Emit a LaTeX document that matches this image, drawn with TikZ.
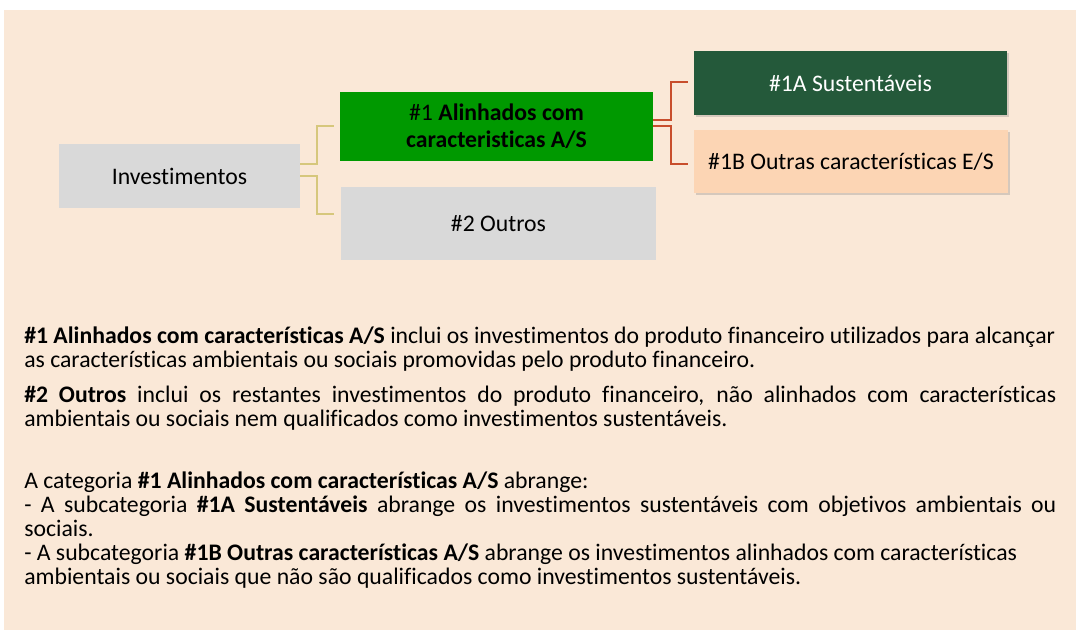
\documentclass[tikz,border=0pt]{standalone}
\usepackage{fontspec}
\setmainfont{Carlito}[Ligatures=CommonOff]
\usetikzlibrary{positioning,calc,shadows}
\definecolor{bgbeige}{RGB}{250,232,215}
\definecolor{boxgray}{RGB}{217,217,217}
\definecolor{alinhgreen}{RGB}{0,153,0}
\definecolor{sustgreen}{RGB}{36,89,58}
\definecolor{outpeach}{RGB}{252,213,180}
\definecolor{linktan}{RGB}{214,199,124}
\definecolor{linkred}{RGB}{200,78,44}

\begin{document}
\begin{tikzpicture}[x=0.75pt,y=0.75pt,yscale=-1,xscale=1,
  catbox/.style={rectangle, inner sep=0pt, align=center, font=\fontsize{17.8}{20}\selectfont},
  subbox/.style={catbox, drop shadow={shadow xshift=1.2pt, shadow yshift=-1.8pt, opacity=0.3}},
  tanlink/.style={draw=linktan, line width=1.5pt},
  redlink/.style={draw=linkred, line width=1.5pt}]
\useasboundingbox (0,0) rectangle (1076,630);
%Background
\fill [bgbeige] (4,10) rectangle (1076,630);

% Category Nodes
\node [catbox, fill=boxgray, minimum width=180.75pt, minimum height=48pt] (inv) at (179.5,176) {Investimentos};
\node [catbox, fill=alinhgreen, minimum width=234.75pt, minimum height=51.75pt] (alinh) at (496.5,126.5) {\#1 \textbf{Alinhados com}\\ \textbf{caracteristicas A/S}};
\node [catbox, fill=boxgray, minimum width=236.25pt, minimum height=54.75pt] (outros) at (498.5,223.5) {\#2 Outros};
\node [subbox, fill=sustgreen, text=white, minimum width=234.75pt, minimum height=48pt] (sust) at (850.5,83) {\#1A Sustentáveis};
\node [subbox, fill=outpeach, minimum width=235.5pt, minimum height=47.25pt] (outcar) at (851,161.5) {\#1B Outras características E/S};

%Straight Lines
\draw [tanlink] ($(inv.east)+(0,-12)$) -- ++(16.7,0) |- ($(alinh.west)+(-6,0)$);
\draw [tanlink] (inv.east) -- ++(16.7,0) |- ($(outros.west)+(-7,-9.5)$);
\draw [redlink] ($(alinh.east)+(0,-6.5)$) -- ++(17.7,0) |- ($(sust.west)+(-6,-1)$);
\draw [redlink] (alinh.east) -- ++(17.7,0) |- ($(outcar.west)+(-6,2.6)$);

% Text Node
\node [anchor=base west, inner sep=0pt, text width=774pt, align=justify, font=\fontsize{17.8}{18}\selectfont] (desc) at (24,343.5) {%
\textbf{\#1 Alinhados com características A/S} inclui os investimentos do produto financeiro utilizados para alcançar\\
as características ambientais ou sociais promovidas pelo produto financeiro.\par\vspace{8pt}
\textbf{\#2 Outros} inclui os restantes investimentos do produto financeiro, não alinhados com características\linebreak
ambientais ou sociais nem qualificados como investimentos sustentáveis.\par\vspace{29pt}
A categoria \textbf{\#1 Alinhados com características A/S} abrange:\\
- A subcategoria \textbf{\#1A Sustentáveis} abrange os investimentos sustentáveis com objetivos ambientais ou\linebreak
sociais.\\
- A subcategoria \textbf{\#1B Outras características A/S} abrange os investimentos alinhados com características\\
ambientais ou sociais que não são qualificados como investimentos sustentáveis.};

\end{tikzpicture}
\end{document}
